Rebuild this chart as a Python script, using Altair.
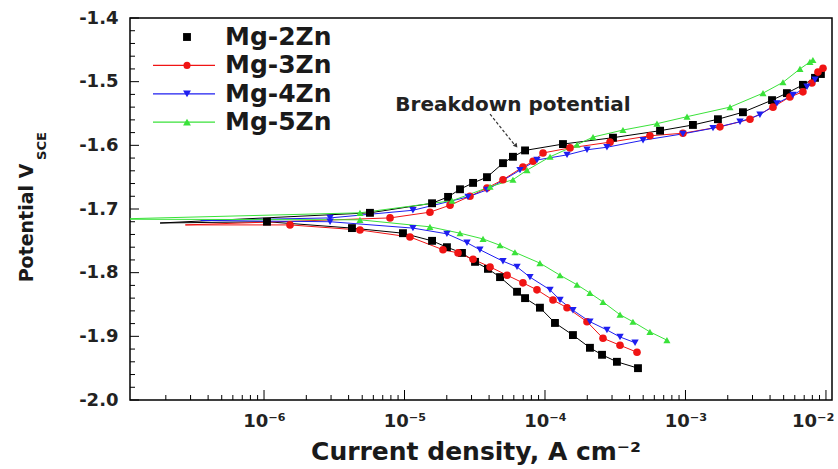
import json
import altair as alt
import pandas as pd

# ---------------- data ----------------
series_names = ["Mg-2Zn", "Mg-3Zn", "Mg-4Zn", "Mg-5Zn"]
series_colors = ["#000000", "#f01414", "#1e1ef0", "#3ae23a"]
series_shapes = ["square", "circle", "triangle-down", "triangle-up"]

# log10(current density / A cm^-2) and potential (V vs SCE)
# cathodic branch (from its end back towards E_corr), dip at E_corr, anodic branch
zn2_cath_logi = [-3.338, -3.488, -3.594, -3.680, -3.801, -3.929, -4.036, -4.142, -4.199,
                 -4.320, -4.406, -4.498, -4.591, -4.698, -4.804, -5.011, -5.374, -5.979]
zn2_cath_e = [-1.950, -1.940, -1.929, -1.918, -1.898, -1.879, -1.855, -1.840, -1.830,
              -1.807, -1.794, -1.783, -1.769, -1.760, -1.750, -1.738, -1.730, -1.720]
zn2_dip = (-6.74, -1.722)
zn2_anod_logi = [-5.246, -4.804, -4.690, -4.605, -4.512, -4.413, -4.299, -4.228, -4.142, -3.872,
                 -3.516, -3.181, -2.947, -2.769, -2.591, -2.384, -2.278, -2.164, -2.078, -2.036]
zn2_anod_e = [-1.706, -1.691, -1.681, -1.669, -1.659, -1.650, -1.628, -1.618, -1.608, -1.598,
              -1.588, -1.577, -1.568, -1.559, -1.548, -1.529, -1.518, -1.505, -1.494, -1.488]

zn3_cath_logi = [-3.345, -3.466, -3.587, -3.701, -3.843, -3.943, -4.057, -4.157,
                 -4.270, -4.391, -4.512, -4.619, -4.726, -4.961, -5.317, -5.815]
zn3_cath_e = [-1.925, -1.914, -1.903, -1.877, -1.855, -1.843, -1.827, -1.816,
              -1.804, -1.791, -1.779, -1.769, -1.764, -1.744, -1.733, -1.725]
zn3_dip = (-6.56, -1.725)
zn3_anod_logi = [-5.103, -4.819, -4.676, -4.534, -4.413, -4.299, -4.157, -4.085, -4.014, -3.822, -3.537,
                 -3.253, -3.018, -2.755, -2.541, -2.377, -2.257, -2.164, -2.100, -2.057, -2.021]
zn3_anod_e = [-1.714, -1.705, -1.694, -1.680, -1.667, -1.654, -1.634, -1.625, -1.612, -1.604, -1.595,
              -1.585, -1.581, -1.571, -1.559, -1.540, -1.524, -1.516, -1.502, -1.485, -1.479]

zn4_cath_logi = [-3.359, -3.466, -3.559, -3.680, -3.801, -3.893, -3.964, -4.107,
                 -4.199, -4.299, -4.463, -4.555, -4.698, -4.940, -5.530]
zn4_cath_e = [-1.910, -1.901, -1.890, -1.877, -1.859, -1.843, -1.827, -1.807,
              -1.791, -1.782, -1.764, -1.753, -1.739, -1.730, -1.720]
zn4_dip = (-6.45, -1.718)
zn4_anod_logi = [-5.530, -4.940, -4.548, -4.413, -4.178, -4.057, -3.843, -3.701, -3.559,
                 -3.302, -3.018, -2.804, -2.612, -2.470, -2.349, -2.235, -2.135, -2.078]
zn4_anod_e = [-1.714, -1.702, -1.681, -1.670, -1.639, -1.623, -1.615, -1.607, -1.603,
              -1.592, -1.582, -1.573, -1.563, -1.552, -1.534, -1.521, -1.508, -1.497]

zn5_cath_logi = [-3.132, -3.253, -3.374, -3.466, -3.587, -3.680, -3.772, -3.893,
                 -4.036, -4.214, -4.320, -4.441, -4.605, -4.819, -5.317]
zn5_cath_e = [-1.906, -1.893, -1.877, -1.866, -1.846, -1.832, -1.819, -1.804,
              -1.785, -1.768, -1.757, -1.747, -1.738, -1.728, -1.717]
zn5_dip = (-7.10, -1.716)
zn5_anod_logi = [-5.317, -4.662, -4.391, -4.228, -4.128, -3.964, -3.772, -3.658, -3.445,
                 -3.203, -2.989, -2.683, -2.448, -2.306, -2.185, -2.114, -2.093]
zn5_anod_e = [-1.706, -1.687, -1.665, -1.654, -1.639, -1.618, -1.599, -1.587, -1.576,
              -1.566, -1.555, -1.540, -1.518, -1.501, -1.480, -1.469, -1.466]

x_tick_values = [1e-6, 1e-5, 1e-4, 1e-3, 1e-2]
x_tick_labels = ["10⁻⁶", "10⁻⁵", "10⁻⁴", "10⁻³", "10⁻²"]
y_tick_values = [-2.0, -1.9, -1.8, -1.7, -1.6, -1.5, -1.4]

annotation_text = "Breakdown potential"
arrow_tail = (-4.391, -1.551)
arrow_tip = (-4.221, -1.598)
arrow_head = (-4.206, -1.601)

# ---------------- table ----------------
raw = {
    "Mg-2Zn": (zn2_cath_logi, zn2_cath_e, zn2_dip, zn2_anod_logi, zn2_anod_e),
    "Mg-3Zn": (zn3_cath_logi, zn3_cath_e, zn3_dip, zn3_anod_logi, zn3_anod_e),
    "Mg-4Zn": (zn4_cath_logi, zn4_cath_e, zn4_dip, zn4_anod_logi, zn4_anod_e),
    "Mg-5Zn": (zn5_cath_logi, zn5_cath_e, zn5_dip, zn5_anod_logi, zn5_anod_e),
}
rows = []
for name in series_names:
    cl, ce, dip, al, ae = raw[name]
    k = 0
    for lg, e in zip(cl, ce):
        rows.append({"series": name, "i": 10 ** lg, "E": e, "order": k, "marker": True}); k += 1
    rows.append({"series": name, "i": 10 ** dip[0], "E": dip[1], "order": k, "marker": False}); k += 1
    for lg, e in zip(al, ae):
        rows.append({"series": name, "i": 10 ** lg, "E": e, "order": k, "marker": True}); k += 1
df = pd.DataFrame(rows)
df_pts = df[df["marker"]]

W, H = 702, 382
FONT = "DejaVu Sans"

xs = alt.Scale(type="log", domain=[10 ** -6.954, 10 ** -1.957], nice=False)
ys = alt.Scale(domain=[-2.0, -1.4], nice=False, zero=False)
cs = alt.Scale(domain=series_names, range=series_colors)
ss = alt.Scale(domain=series_names, range=series_shapes)
size_scale = alt.Scale(domain=series_names, range=[62, 50, 62, 62])

label_expr_x = json.dumps(x_tick_labels, ensure_ascii=False) + "[round(log(datum.value)/LN10)+6]"
xaxis = alt.Axis(values=x_tick_values, labelExpr=label_expr_x, title=None, domain=False,
                 ticks=False, grid=False, labelFont=FONT, labelFontSize=18, labelFontWeight="bold",
                 labelColor="#222222", labelPadding=12, labelFlush=8, labelFlushOffset=8,
                 labelOverlap=False)
yaxis = alt.Axis(values=y_tick_values, labelExpr="'-' + format(abs(datum.value), '.1f')",
                 title=None, domain=False, ticks=False, grid=False, labelFont=FONT,
                 labelFontSize=18, labelFontWeight="bold", labelColor="#222222",
                 labelPadding=12, labelOverlap=False)

X = alt.X("i:Q", scale=xs, axis=xaxis)
Y = alt.Y("E:Q", scale=ys, axis=yaxis)

lines = alt.Chart(df).mark_line(strokeWidth=1, clip=True).encode(
    x=X, y=Y, color=alt.Color("series:N", scale=cs, legend=None), order="order:Q")
points = alt.Chart(df_pts).mark_point(filled=True, opacity=1, clip=True).encode(
    x=X, y=Y, color=alt.Color("series:N", scale=cs, legend=None),
    shape=alt.Shape("series:N", scale=ss, legend=None),
    size=alt.Size("series:N", scale=size_scale, legend=None))

# inward ticks
x_minor = [k * 10 ** d for d in range(-7, -1) for k in range(2, 10)
           if 10 ** -6.954 <= k * 10 ** d <= 10 ** -1.957]
y_minor = [round(-2.0 + 0.02 * n, 2) for n in range(31) if n % 5 != 0]
xt_major = alt.Chart(pd.DataFrame({"i": x_tick_values})).mark_rule(color="black", strokeWidth=1).encode(
    x=X, y=alt.value(H), y2=alt.value(H - 10))
xt_minor = alt.Chart(pd.DataFrame({"i": x_minor})).mark_rule(color="black", strokeWidth=1).encode(
    x=X, y=alt.value(H), y2=alt.value(H - 5))
yt_major = alt.Chart(pd.DataFrame({"E": y_tick_values})).mark_rule(color="black", strokeWidth=1).encode(
    y=Y, x=alt.value(0), x2=alt.value(9))
yt_minor = alt.Chart(pd.DataFrame({"E": y_minor})).mark_rule(color="black", strokeWidth=1).encode(
    y=Y, x=alt.value(0), x2=alt.value(5))

# annotation
ann_df = pd.DataFrame({"i": [10 ** arrow_tail[0]], "E": [arrow_tail[1]],
                       "i2": [10 ** arrow_tip[0]], "E2": [arrow_tip[1]]})
arrow = alt.Chart(ann_df).mark_rule(color="#333333", strokeWidth=1.2, strokeDash=[3, 2]).encode(
    x=X, y=Y, x2="i2:Q", y2="E2:Q")
head = alt.Chart(pd.DataFrame({"i": [10 ** arrow_head[0]], "E": [arrow_head[1]]})).mark_point(
    shape="triangle-down", filled=True, color="#333333", size=24, angle=321, opacity=1).encode(x=X, y=Y)
ann_text = alt.Chart(pd.DataFrame({"t": [annotation_text]})).mark_text(
    font=FONT, fontSize=20, fontWeight="bold", color="#222222", align="center", baseline="middle").encode(
    x=alt.value(383), y=alt.value(87), text="t:N")

# legend
legend_sizes = [62, 50, 62, 62]
legend_layers = []
for idx, (name, col, shp) in enumerate(zip(series_names, series_colors, series_shapes)):
    yy = 19 + 28.4 * idx
    ldf = pd.DataFrame({"series": [name]})
    if idx > 0:
        legend_layers.append(alt.Chart(ldf).mark_rule(color=col, strokeWidth=1.2).encode(
            x=alt.value(23), x2=alt.value(85), y=alt.value(yy)))
    legend_layers.append(alt.Chart(ldf).mark_point(
        shape=shp, filled=True, color=col, size=legend_sizes[idx], opacity=1).encode(
        x=alt.value(57), y=alt.value(yy)))
    legend_layers.append(alt.Chart(ldf).mark_text(
        font=FONT, fontSize=25, fontWeight="bold", color="#1a1a1a", align="left", baseline="middle").encode(
        x=alt.value(95), y=alt.value(yy), text="series:N"))

# axis titles
xtitle = alt.Chart(pd.DataFrame({"t": ["Current density, A cm⁻²"]})).mark_text(
    font=FONT, fontSize=25, fontWeight="bold", color="#1a1a1a", align="center", baseline="middle").encode(
    x=alt.value(W / 2 - 5), y=alt.value(434), text="t:N")
ytitle = alt.Chart(pd.DataFrame({"t": ["Potential V"]})).mark_text(
    font=FONT, fontSize=19, fontWeight="bold", color="#1a1a1a", align="center", baseline="middle",
    angle=270).encode(x=alt.value(-103), y=alt.value(205), text="t:N")
ysub = alt.Chart(pd.DataFrame({"t": ["SCE"]})).mark_text(
    font=FONT, fontSize=13, fontWeight="bold", color="#1a1a1a", align="center", baseline="middle",
    angle=270).encode(x=alt.value(-88), y=alt.value(128), text="t:N")

chart = alt.layer(
    xt_minor, xt_major, yt_minor, yt_major, lines, points, arrow, head, ann_text,
    *legend_layers, xtitle, ytitle, ysub
).properties(
    width=W, height=H,
    autosize=alt.AutoSizeParams(type="none"),
    padding={"left": 130, "top": 18, "right": 6, "bottom": 69},
).configure_view(stroke="black", strokeWidth=1.5).configure_axis(grid=False)

chart.save("out.html", embed_options={"renderer": "svg", "actions": False})
